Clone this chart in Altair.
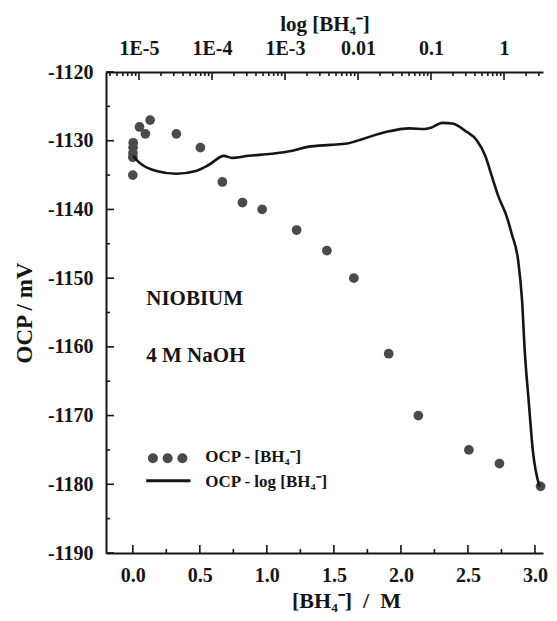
import math
import altair as alt
import pandas as pd

# ---------------- data ----------------
# scatter: OCP vs [BH4-] (linear, bottom axis, M)
conc_M = [0.0, 0.0005, 0.001, 0.002, 0.003, 0.05, 0.094, 0.129, 0.325, 0.504,
          0.668, 0.818, 0.965, 1.222, 1.448, 1.649, 1.909, 2.13, 2.507, 2.735, 3.042]
ocp_M = [-1135, -1132.4, -1131.8, -1131.0, -1130.3, -1128, -1129, -1127, -1129, -1131,
         -1136, -1139, -1140, -1143, -1146, -1150, -1161, -1170, -1175, -1177, -1180.3]

# line: OCP vs log [BH4-] (top axis)
log_c = [-5.077, -5.014, -4.942, -4.761, -4.491, -4.220, -4.041, -3.838, -3.726, -3.500,
         -3.185, -2.915, -2.689, -2.374, -2.149, -1.923, -1.608, -1.293, -1.091, -1.0,
         -0.842, -0.707, -0.527, -0.369, -0.257, -0.166, -0.077, 0.036, 0.104, 0.193,
         0.247, 0.284, 0.338, 0.396, 0.486]
ocp_log = [-1132.2, -1133.0, -1133.6, -1134.4, -1134.8, -1134.4, -1133.5, -1132.2, -1132.5, -1132.2,
           -1131.9, -1131.5, -1130.9, -1130.6, -1130.4, -1129.7, -1128.7, -1128.2, -1128.3, -1128.1,
           -1127.4, -1127.5, -1128.6, -1130.0, -1132.2, -1135.2, -1138.1, -1141.0, -1143.5, -1147.4,
           -1153.2, -1160.6, -1167.9, -1175.2, -1180.3]

# axis ticks / labels
y_major = [-1190, -1180, -1170, -1160, -1150, -1140, -1130, -1120]
y_minor = [-1185, -1175, -1165, -1155, -1145, -1135, -1125]
x_major = [0.0, 0.5, 1.0, 1.5, 2.0, 2.5, 3.0]
x_minor = [0.25, 0.75, 1.25, 1.75, 2.25, 2.75]
top_vals = [-5, -4, -3, -2, -1, 0]
top_labels = ["1E-5", "1E-4", "1E-3", "0.01", "0.1", "1"]

# annotation texts and legend
notes_text = ["NIOBIUM", "4 M NaOH"]
notes_x = [0.10, 0.10]
notes_y = [-1153.0, -1161.3]

leg_labels = ["OCP - [BH₄⁻]", "OCP - log [BH₄⁻]"]
leg_text_x = [0.54, 0.54]
leg_text_y = [-1176.0, -1179.6]
leg_dot_x = [0.15, 0.26, 0.37]
leg_dot_y = [-1176.2, -1176.2, -1176.2]
leg_line_x = [0.10]
leg_line_x2 = [0.43]
leg_line_y = [-1179.5]

# ---------------- chart ----------------
W, H = 437, 481
X_DOM = [-0.2, 3.06]
LOG_DOM = [-5.452, 0.534]
Y_DOM = [-1190, -1120]
FONT = "Liberation Serif"
INK = "#151515"
DOT = "#4a4a4a"

log_minor = []
for d in range(-7, 1):
    for k in range(2, 10):
        v = d + math.log10(k)
        if LOG_DOM[0] <= v <= LOG_DOM[1]:
            log_minor.append(v)

label_expr = "''"
for v, lab in reversed(list(zip(top_vals, top_labels))):
    label_expr = f"datum.value == {v} ? '{lab}' : ({label_expr})"

xscale = alt.Scale(domain=X_DOM, nice=False, zero=False)
lscale = alt.Scale(domain=LOG_DOM, nice=False, zero=False)
yscale = alt.Scale(domain=Y_DOM, nice=False, zero=False)

x_axis = alt.Axis(orient="bottom", values=x_major, format=".1f",
                  title="[BH₄⁻]\u00a0\u00a0/\u00a0\u00a0M", titleX=240,
                  labelPadding=12, titlePadding=5)
y_axis = alt.Axis(orient="left", values=y_major, labelExpr="'' + datum.value", title="OCP / mV",
                  labelPadding=13, titlePadding=11, titleFontSize=23)
top_axis = alt.Axis(orient="top", values=top_vals, labelExpr=label_expr,
                    title="log [BH₄⁻]", labelPadding=14, titlePadding=4, titleFontSize=21)


def X(field):
    return alt.X(field, type="quantitative", scale=xscale, axis=x_axis)


def Y(field):
    return alt.Y(field, type="quantitative", scale=yscale, axis=y_axis)


def XL(field):
    return alt.X(field, type="quantitative", scale=lscale, axis=top_axis)


scatter = alt.Chart(pd.DataFrame({"conc": conc_M, "ocp": ocp_M})).mark_circle(
    size=95, color=DOT, opacity=1
).encode(x=X("conc"), y=Y("ocp"))


def xrule(vals, length):
    return alt.Chart(pd.DataFrame({"v": vals})).mark_rule(color=INK, strokeWidth=1.6).encode(
        x=X("v"), y=alt.value(H), y2=alt.value(H - length))


def yrule(vals, length):
    return alt.Chart(pd.DataFrame({"v": vals})).mark_rule(color=INK, strokeWidth=1.6).encode(
        y=Y("v"), x=alt.value(0), x2=alt.value(length))


def lrule(vals, length):
    return alt.Chart(pd.DataFrame({"v": vals})).mark_rule(color=INK, strokeWidth=1.6).encode(
        x=XL("v"), y=alt.value(0), y2=alt.value(length))


notes = alt.Chart(pd.DataFrame({"t": notes_text, "x": notes_x, "y": notes_y})).mark_text(
    align="left", baseline="middle", font=FONT, fontWeight="bold", fontSize=21, color=INK
).encode(x=X("x"), y=Y("y"), text="t:N")

leg_dots = alt.Chart(pd.DataFrame({"x": leg_dot_x, "y": leg_dot_y})).mark_circle(
    size=100, color=DOT, opacity=1
).encode(x=X("x"), y=Y("y"))

leg_line = alt.Chart(pd.DataFrame({"x": leg_line_x, "x2": leg_line_x2, "y": leg_line_y})).mark_rule(
    color=INK, strokeWidth=3
).encode(x=X("x"), x2="x2:Q", y=Y("y"))

leg_text = alt.Chart(pd.DataFrame({"t": leg_labels, "x": leg_text_x, "y": leg_text_y})).mark_text(
    align="left", baseline="middle", font=FONT, fontWeight="bold", fontSize=17, color=INK
).encode(x=X("x"), y=Y("y"), text="t:N")

bottom_group = alt.layer(
    scatter, xrule(x_major, 8), xrule(x_minor, 4), yrule(y_major, 8), yrule(y_minor, 4),
    notes, leg_dots, leg_line, leg_text,
)

line = alt.Chart(pd.DataFrame({"logc": log_c, "ocp": ocp_log})).mark_line(
    color=INK, strokeWidth=2.6, interpolate="monotone"
).encode(x=XL("logc"), y=Y("ocp"))

top_group = alt.layer(line, lrule(top_vals, 8), lrule(log_minor, 4))

chart = alt.layer(bottom_group, top_group).resolve_scale(x="independent").properties(
    width=W, height=H,
    padding={"left": 98, "top": 64, "right": 6, "bottom": 60},
    autosize=alt.AutoSizeParams(type="none"),
    background="white",
).configure_view(stroke=None).configure_axis(
    labelFont=FONT, labelFontWeight="bold", labelFontSize=20, labelColor=INK,
    titleFont=FONT, titleFontWeight="bold", titleFontSize=22, titleColor=INK,
    domainColor=INK, domainWidth=2, ticks=False, grid=False,
)

chart.save("out.html", embed_options={"renderer": "svg", "actions": False})
